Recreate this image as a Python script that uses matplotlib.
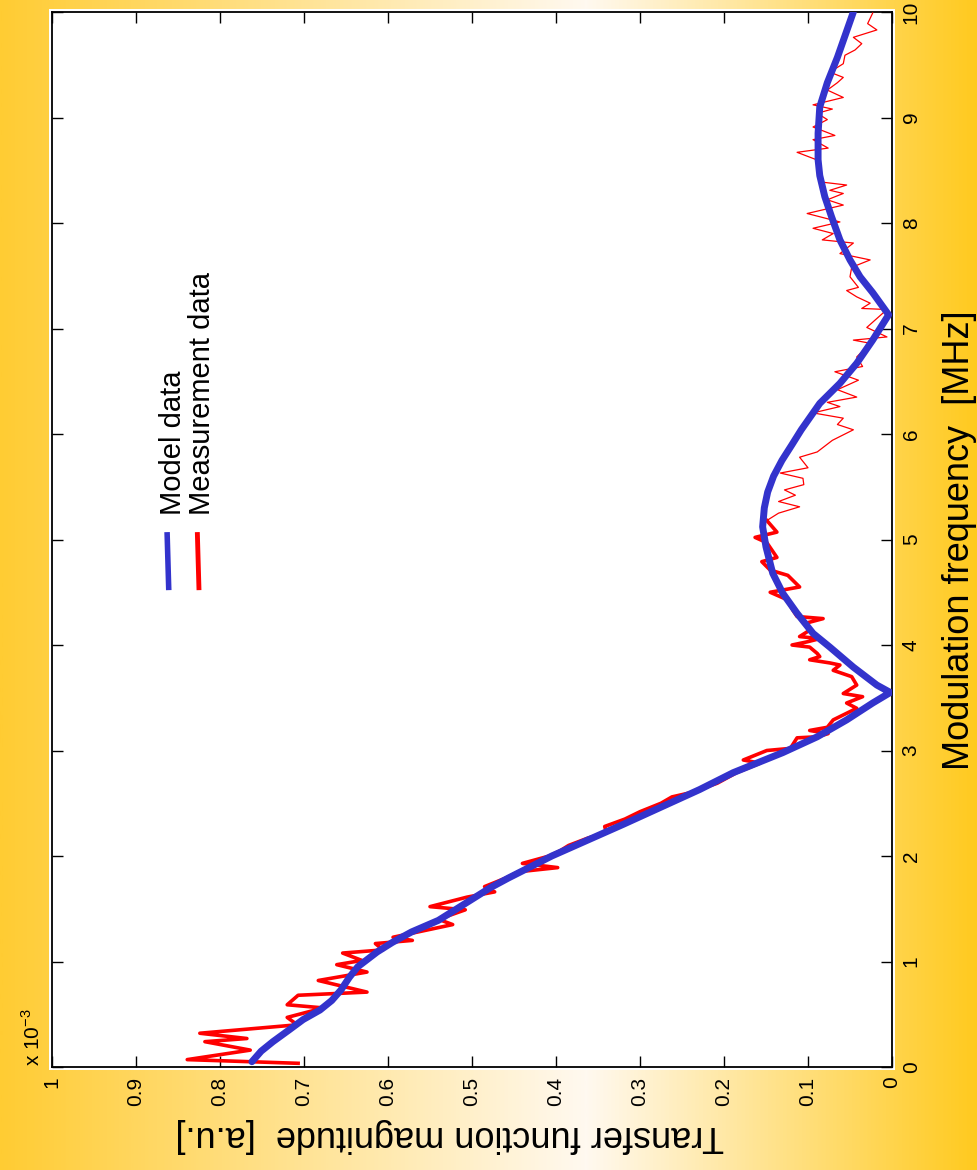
import numpy as np
import matplotlib
matplotlib.use("Agg")
import matplotlib.pyplot as plt
from matplotlib.colors import LinearSegmentedColormap
from matplotlib.patches import Rectangle

plt.rcParams['font.family'] = ['Liberation Sans', 'DejaVu Sans']
plt.rcParams['mathtext.fontset'] = 'custom'
plt.rcParams['mathtext.rm'] = 'Liberation Sans'

# modulation frequency in MHz, magnitude in units of 1e-3
model_freq = [0.05, 0.15, 0.24, 0.35, 0.45, 0.54, 0.63, 0.73, 0.85, 0.95, 1.09, 1.18, 1.28,
              1.39, 1.50, 1.58, 1.70, 1.79, 2.0, 2.3, 2.63, 2.79, 2.98, 3.13, 3.29, 3.45,
              3.55, 3.62, 3.79, 3.98, 4.11, 4.30, 4.49, 4.68, 4.93, 5.12, 5.30, 5.45, 5.60,
              5.75, 5.90, 6.04, 6.29, 6.48, 6.67, 6.89, 7.13, 7.34, 7.49, 7.65, 7.84, 8.06,
              8.25, 8.45, 8.6, 8.85, 9.1, 9.33, 9.57, 10.0]
model_mag = [0.762, 0.751, 0.737, 0.718, 0.701, 0.681, 0.667, 0.656, 0.646, 0.636, 0.613, 0.595,
             0.572, 0.540, 0.518, 0.502, 0.478, 0.457, 0.405, 0.320, 0.229, 0.189, 0.130, 0.089,
             0.054, 0.023, 0.002, 0.018, 0.046, 0.074, 0.094, 0.113, 0.130, 0.142, 0.150, 0.154,
             0.152, 0.148, 0.141, 0.131, 0.119, 0.108, 0.086, 0.062, 0.042, 0.023, 0.004, 0.023,
             0.038, 0.050, 0.062, 0.072, 0.080, 0.086, 0.088, 0.088, 0.086, 0.077, 0.065, 0.046]

# measured data, low band (heavy trace)
meas_freq_lo = [0.035, 0.07, 0.16, 0.24, 0.27, 0.32, 0.40, 0.47, 0.56, 0.59, 0.68, 0.71, 0.82,
                0.90, 0.97, 1.01, 1.08, 1.11, 1.17, 1.20, 1.23, 1.35, 1.40, 1.49, 1.52, 1.61,
                1.66, 1.71, 1.80, 1.85, 1.89, 1.93, 2.00, 2.05, 2.10, 2.17, 2.22, 2.28, 2.35,
                2.42, 2.50, 2.56, 2.60, 2.69, 2.79, 2.88, 2.91, 3.00, 3.02, 3.12, 3.13, 3.16,
                3.19, 3.22, 3.29, 3.40, 3.45, 3.51, 3.54, 3.62, 3.70, 3.76, 3.81, 3.83, 3.86,
                3.89, 3.92, 3.98, 4.00, 4.03, 4.06, 4.08, 4.14, 4.21, 4.25, 4.27, 4.33, 4.43,
                4.50, 4.55, 4.66, 4.71, 4.79, 4.83, 4.97, 5.02, 5.07, 5.18]
meas_mag_lo = [0.707, 0.839, 0.764, 0.818, 0.768, 0.824, 0.708, 0.720, 0.677, 0.720, 0.707, 0.625,
               0.683, 0.625, 0.661, 0.631, 0.654, 0.606, 0.615, 0.571, 0.594, 0.523, 0.540, 0.508,
               0.550, 0.506, 0.473, 0.485, 0.457, 0.445, 0.398, 0.440, 0.408, 0.395, 0.385, 0.362,
               0.340, 0.342, 0.318, 0.300, 0.275, 0.262, 0.240, 0.208, 0.185, 0.157, 0.177, 0.149,
               0.121, 0.113, 0.089, 0.076, 0.098, 0.077, 0.070, 0.042, 0.054, 0.035, 0.058, 0.042,
               0.048, 0.070, 0.062, 0.074, 0.098, 0.086, 0.089, 0.098, 0.119, 0.101, 0.086, 0.110,
               0.098, 0.101, 0.082, 0.113, 0.118, 0.125, 0.145, 0.110, 0.124, 0.145, 0.155, 0.137,
               0.149, 0.163, 0.137, 0.149]

# measured data, high band (thin trace)
meas_freq_hi = [5.18, 5.25, 5.31, 5.36, 5.42, 5.47, 5.52, 5.58, 5.63, 5.68, 5.78, 5.83, 5.94,
                6.04, 6.09, 6.15, 6.20, 6.26, 6.30, 6.35, 6.42, 6.51, 6.59, 6.64, 6.73, 6.86,
                6.89, 6.92, 7.01, 7.18, 7.19, 7.24, 7.30, 7.36, 7.39, 7.49, 7.58, 7.65, 7.71,
                7.81, 7.84, 7.90, 7.95, 8.01, 8.09, 8.17, 8.22, 8.28, 8.31, 8.36, 8.39, 8.50,
                8.60, 8.67, 8.71, 8.79, 8.83, 8.91, 8.98, 9.04, 9.08, 9.12, 9.19, 9.26, 9.33,
                9.38, 9.43, 9.51, 9.59, 9.64, 9.70, 9.76, 9.83, 9.89, 9.99]
meas_mag_hi = [0.149, 0.135, 0.110, 0.135, 0.115, 0.128, 0.105, 0.106, 0.133, 0.100, 0.110, 0.089,
               0.071, 0.046, 0.065, 0.058, 0.094, 0.062, 0.077, 0.042, 0.065, 0.040, 0.068, 0.035,
               0.042, 0.026, 0.046, 0.006, 0.030, 0.006, 0.036, 0.026, 0.042, 0.054, 0.040, 0.050,
               0.048, 0.026, 0.062, 0.046, 0.083, 0.070, 0.094, 0.062, 0.101, 0.058, 0.077, 0.058,
               0.074, 0.054, 0.086, 0.085, 0.090, 0.113, 0.076, 0.094, 0.068, 0.094, 0.077, 0.089,
               0.071, 0.094, 0.058, 0.077, 0.065, 0.058, 0.074, 0.058, 0.056, 0.044, 0.036, 0.046,
               0.018, 0.029, 0.023]

mag_ticks = [0, 0.1, 0.2, 0.3, 0.4, 0.5, 0.6, 0.7, 0.8, 0.9, 1]
mag_tick_labels = ['0', '0.1', '0.2', '0.3', '0.4', '0.5', '0.6', '0.7', '0.8', '0.9', '1']
freq_ticks = [0, 1, 2, 3, 4, 5, 6, 7, 8, 9, 10]
freq_tick_labels = [str(t) for t in freq_ticks]

W, H = 978, 1170
fig = plt.figure(figsize=(W / 100, H / 100), dpi=100)

# gold -> white -> gold backdrop
bg = fig.add_axes([0, 0, 1, 1], zorder=-10)
cmap = LinearSegmentedColormap.from_list(
    'frame', [(0.0, '#FFCC33'), (0.60, '#FFF9F0'), (1.0, '#FFCA1F')])
bg.imshow(np.linspace(0, 1, 512)[None, :], cmap=cmap, aspect='auto',
          extent=[0, 1, 0, 1])
bg.set_axis_off()

left, right, top, bottom = 52, 892, 12, 1067
ax_rect = [left / W, 1 - bottom / H, (right - left) / W, (bottom - top) / H]
fig.patches.append(Rectangle((ax_rect[0] - 3 / W, ax_rect[1] - 3 / H),
                             ax_rect[2] + 6 / W, ax_rect[3] + 6 / H,
                             transform=fig.transFigure, facecolor='white',
                             edgecolor='none', zorder=-5))
ax = fig.add_axes(ax_rect)
ax.set_facecolor('white')

ax.plot(meas_mag_lo, meas_freq_lo, color='#FF0000', lw=2.6, zorder=3)
ax.plot(meas_mag_hi, meas_freq_hi, color='#FF0000', lw=0.9, zorder=3)
ax.plot(model_mag, model_freq, color='#3333CC', lw=5, zorder=4,
        solid_capstyle='round', solid_joinstyle='round')

ax.set_xlim(1, 0)
ax.set_ylim(0, 10)
ax.set_xticks(mag_ticks)
ax.set_xticklabels(mag_tick_labels, fontsize=15)
ax.set_yticks(freq_ticks)
ax.set_yticklabels(freq_tick_labels, fontsize=15)
ax.tick_params(direction='in', length=8, width=1, top=True, bottom=True,
               left=True, right=True, labelleft=False, labelright=True,
               pad=7, colors='black')
ax.tick_params(axis='x', labelrotation=90)
ax.tick_params(axis='y', labelrotation=90)
for lab in ax.get_yticklabels():
    lab.set_va('center')
for sp in ax.spines.values():
    sp.set_linewidth(1.3)
    sp.set_color('black')

# legend drawn sideways
ax.plot([0.137, 0.139], [0.507, 0.452], transform=ax.transAxes,
        color='#3333CC', lw=4, solid_capstyle='butt')
ax.plot([0.173, 0.175], [0.507, 0.452], transform=ax.transAxes,
        color='#FF0000', lw=3.5, solid_capstyle='butt')
ax.text(0.1445, 0.523, 'Model data', transform=ax.transAxes, rotation=90,
        ha='center', va='bottom', fontsize=21)
ax.text(0.178, 0.523, 'Measurement data', transform=ax.transAxes, rotation=90,
        ha='center', va='bottom', fontsize=21)

fig.text(450 / W, 1 - 1135 / H, 'Transfer function magnitude  [a.u.]',
         rotation=180, ha='center', va='center', fontsize=26)
fig.text(960 / W, 1 - 540 / H, 'Modulation frequency  [MHz]',
         rotation=90, ha='center', va='center', fontsize=26)
fig.text(33 / W, 1 - 1066 / H, r'x 10$^{\mathregular{-3}}$',
         rotation=90, ha='center', va='bottom', fontsize=15)

fig.savefig('out.png', dpi=100)
